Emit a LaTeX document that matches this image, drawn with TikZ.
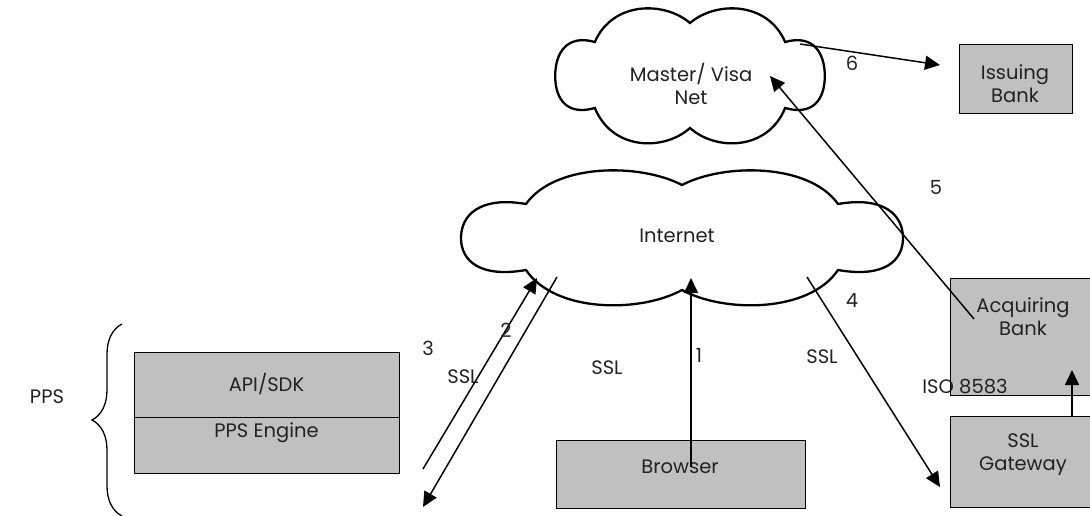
\documentclass[tikz,border=0pt]{standalone}
\usepackage{fontspec}
\setmainfont{Poppins}
\usetikzlibrary{arrows.meta,decorations.pathreplacing}
\definecolor{boxgray}{HTML}{C0C0C0}
\definecolor{txtgray}{HTML}{222222}
\begin{document}
\begin{tikzpicture}[x=1pt,y=-1pt,
  every node/.style={font=\fontsize{19.5pt}{23pt}\selectfont, inner sep=0pt, text=txtgray},
  txt/.style={align=center},
  box/.style={draw=black, line width=1pt, fill=boxgray, anchor=north west},
  arr/.style={line width=1.5pt, -{Triangle[length=15pt,width=14pt]}},
  cloudline/.style={line width=2.3pt, fill=white},
  cloudpic/.pic={
    \draw[cloudline] (-156,-34) .. controls (-127,-75) and (-42,-75) .. (0,-53)
      .. controls (42,-75) and (127,-75) .. (156,-34)
      .. controls (202,-42) and (221,-23) .. (221,0)
      .. controls (221,23) and (202,40) .. (156,32)
      .. controls (127,75) and (42,75) .. (0,52)
      .. controls (-42,75) and (-127,75) .. (-156,32)
      .. controls (-202,40) and (-221,23) .. (-221,0)
      .. controls (-221,-23) and (-202,-42) .. (-156,-34) -- cycle;
  }]
\useasboundingbox (0,0) rectangle (1090,515);

% clouds
\pic[xscale=0.61] at (690,76) {cloudpic};
\pic at (682,238) {cloudpic};
\node[txt] (mv) at (691,84) {Master/ Visa\\Net};
\node[txt] (inet) at (677,236) {Internet};

% boxes
\node[box, minimum width=265, minimum height=65] (api) at (134,352) {};
\node[box, minimum width=265, minimum height=56] (eng) at (134,417) {};
\node[txt] (apit) at (266.5,384) {API/SDK};
\node[txt] (engt) at (266.5,433) {PPS Engine};

\node[box, minimum width=249, minimum height=68] (br) at (556,440) {};
\node[txt] (brt) at (680,467) {Browser};

\node[box, minimum width=113, minimum height=69] (iss) at (959,44) {};
\node[txt] (isst) at (1015,84) {Issuing\\Bank};

\node[box, minimum width=146, minimum height=117] (acq) at (950,278) {};
\node[txt] (acqt) at (1023,317) {Acquiring\\Bank};

\node[box, minimum width=146, minimum height=91] (gw) at (950,416) {};
\node[txt] (gwt) at (1023,455) {SSL\\Gateway};

% brace and PPS
\node[txt] (pps) at (47,397) {PPS};
\coordinate (bb) at (122,516);
\coordinate (bt) at (122,324);
\draw[line width=1.3pt, decorate, decoration={brace, amplitude=30pt}] (bb) -- (bt);

% arrow endpoints
\coordinate (a1s) at (691,467); \coordinate (a1e) at (691,278);
\coordinate (a2s) at (423,469); \coordinate (a2e) at (537,278);
\coordinate (a3s) at (557,277); \coordinate (a3e) at (423,507);
\coordinate (a4s) at (807,277); \coordinate (a4e) at (940,487);
\coordinate (a5s) at (974,319); \coordinate (a5e) at (770,76);
\coordinate (a6s) at (800,44);  \coordinate (a6e) at (940,65);
\coordinate (a7s) at (1072,417); \coordinate (a7e) at (1072,370);

\draw[arr] (a1s) -- (a1e);
\draw[arr] (a2s) -- (a2e);
\draw[arr] (a3s) -- (a3e);
\draw[arr] (a4s) -- (a4e);
\draw[arr] (a5s) -- (a5e);
\draw[arr] (a6s) -- (a6e);
\draw[arr] (a7s) -- (a7e);

% labels
\node (l1) at (699,355) {1};
\node (l2) at (506,330) {2};
\node (l3) at (428,348) {3};
\node (l4) at (852,301) {4};
\node (l5) at (936,187) {5};
\node (l6) at (852,63) {6};
\node (s1) at (463,377) {SSL};
\node (s2) at (607,368) {SSL};
\node (s3) at (822,357) {SSL};
\node (iso) at (965,387) {ISO 8583};
\end{tikzpicture}
\end{document}
